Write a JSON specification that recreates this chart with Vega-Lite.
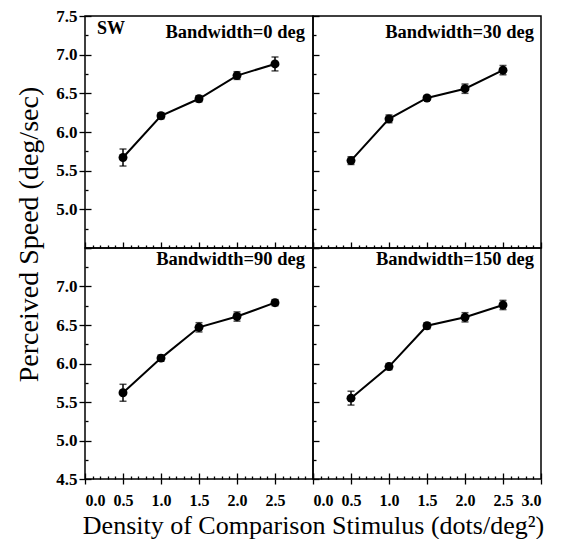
{
  "$schema": "https://vega.github.io/schema/vega-lite/v6.json",
  "background": "white",
  "padding": {"left": 15, "top": 6, "right": 5, "bottom": 0},
  "datasets": {
    "speeds": [
      {"bw": "Bandwidth=0 deg", "density": 0.5, "speed": 5.67, "err": 0.11},
      {"bw": "Bandwidth=0 deg", "density": 1.0, "speed": 6.21, "err": 0.04},
      {"bw": "Bandwidth=0 deg", "density": 1.5, "speed": 6.43, "err": 0.04},
      {"bw": "Bandwidth=0 deg", "density": 2.0, "speed": 6.73, "err": 0.05},
      {"bw": "Bandwidth=0 deg", "density": 2.5, "speed": 6.88, "err": 0.09},
      {"bw": "Bandwidth=30 deg", "density": 0.5, "speed": 5.63, "err": 0.05},
      {"bw": "Bandwidth=30 deg", "density": 1.0, "speed": 6.17, "err": 0.05},
      {"bw": "Bandwidth=30 deg", "density": 1.5, "speed": 6.44, "err": 0.03},
      {"bw": "Bandwidth=30 deg", "density": 2.0, "speed": 6.56, "err": 0.06},
      {"bw": "Bandwidth=30 deg", "density": 2.5, "speed": 6.80, "err": 0.06},
      {"bw": "Bandwidth=90 deg", "density": 0.5, "speed": 5.62, "err": 0.11},
      {"bw": "Bandwidth=90 deg", "density": 1.0, "speed": 6.07, "err": 0.04},
      {"bw": "Bandwidth=90 deg", "density": 1.5, "speed": 6.47, "err": 0.06},
      {"bw": "Bandwidth=90 deg", "density": 2.0, "speed": 6.61, "err": 0.06},
      {"bw": "Bandwidth=90 deg", "density": 2.5, "speed": 6.79, "err": 0.04},
      {"bw": "Bandwidth=150 deg", "density": 0.5, "speed": 5.55, "err": 0.09},
      {"bw": "Bandwidth=150 deg", "density": 1.0, "speed": 5.96, "err": 0.04},
      {"bw": "Bandwidth=150 deg", "density": 1.5, "speed": 6.49, "err": 0.04},
      {"bw": "Bandwidth=150 deg", "density": 2.0, "speed": 6.60, "err": 0.06},
      {"bw": "Bandwidth=150 deg", "density": 2.5, "speed": 6.76, "err": 0.06}
    ]
  },
  "data": {"name": "speeds"},
  "spacing": 0,
  "bounds": "flush",
  "columns": 2,
  "concat": [
    {
      "width": 228, "height": 232,
      "transform": [{"filter": "datum.bw === 'Bandwidth=0 deg'"}],
      "resolve": {"axis": {"x": "independent", "y": "independent"}},
      "layer": [
        {
          "mark": {"type": "errorbar", "ticks": {"size": 7}, "color": "black", "thickness": 1.5},
          "encoding": {
            "x": {"field": "density", "type": "quantitative", "scale": {"domain": [0, 3], "nice": false, "zero": false}, "axis": null},
            "y": {"field": "speed", "type": "quantitative", "scale": {"domain": [4.5, 7.5], "nice": false, "zero": false}, "axis": null},
            "yError": {"field": "err"}
          }
        },
        {
          "mark": {"type": "line", "color": "black", "strokeWidth": 2},
          "encoding": {
            "x": {"field": "density", "type": "quantitative", "axis": null},
            "y": {"field": "speed", "type": "quantitative", "axis": {"orient": "left", "values": [5, 5.5, 6, 6.5, 7, 7.5], "format": ".1f", "tickSize": 6, "labelPadding": 2, "title": "Perceived Speed (deg/sec)", "titleFontSize": 28, "titleY": 218, "titlePadding": 12}}
          }
        },
        {
          "mark": {"type": "point", "filled": true, "color": "black", "size": 80, "opacity": 1},
          "encoding": {
            "x": {"field": "density", "type": "quantitative", "axis": {"orient": "bottom", "values": [0, 0.5, 1, 1.5, 2, 2.5, 3], "labels": false, "tickSize": -6, "title": null}},
            "y": {"field": "speed", "type": "quantitative", "axis": {"orient": "left", "values": [4.5, 5, 5.5, 6, 6.5, 7, 7.5], "labels": false, "tickSize": -6, "title": null}}
          }
        },
        {
          "transform": [{"filter": "datum.density === 0.5"}],
          "mark": {"type": "text", "align": "right", "baseline": "alphabetic", "dx": -8, "dy": 22, "font": "Liberation Serif", "fontWeight": "bold", "fontSize": 18.5, "color": "black"},
          "encoding": {
            "x": {"datum": 3, "type": "quantitative", "axis": {"orient": "bottom", "values": [0.1, 0.2, 0.3, 0.4, 0.6, 0.7, 0.8, 0.9, 1.1, 1.2, 1.3, 1.4, 1.6, 1.7, 1.8, 1.9, 2.1, 2.2, 2.3, 2.4, 2.6, 2.7, 2.8, 2.9], "labels": false, "tickSize": -3, "title": null}},
            "y": {"datum": 7.5, "type": "quantitative", "axis": {"orient": "left", "values": [4.75, 5.25, 5.75, 6.25, 6.75, 7.25], "labels": false, "tickSize": -3, "title": null}},
            "text": {"field": "bw"}
          }
        },
        {
          "transform": [{"filter": "datum.density === 0.5"}],
          "mark": {"type": "text", "text": "SW", "align": "left", "baseline": "alphabetic", "dx": 12, "dy": 18, "font": "Liberation Serif", "fontWeight": "bold", "fontSize": 18, "color": "black"},
          "encoding": {
            "x": {"datum": 0, "type": "quantitative", "axis": null},
            "y": {"datum": 7.5, "type": "quantitative", "axis": null}
          }
        }
      ]
    },
    {
      "width": 228, "height": 232,
      "transform": [{"filter": "datum.bw === 'Bandwidth=30 deg'"}],
      "resolve": {"axis": {"x": "independent", "y": "independent"}},
      "layer": [
        {
          "mark": {"type": "errorbar", "ticks": {"size": 7}, "color": "black", "thickness": 1.5},
          "encoding": {
            "x": {"field": "density", "type": "quantitative", "scale": {"domain": [0, 3], "nice": false, "zero": false}, "axis": null},
            "y": {"field": "speed", "type": "quantitative", "scale": {"domain": [4.5, 7.5], "nice": false, "zero": false}, "axis": null},
            "yError": {"field": "err"}
          }
        },
        {
          "mark": {"type": "line", "color": "black", "strokeWidth": 2},
          "encoding": {
            "x": {"field": "density", "type": "quantitative", "axis": null},
            "y": {"field": "speed", "type": "quantitative", "axis": null}
          }
        },
        {
          "mark": {"type": "point", "filled": true, "color": "black", "size": 80, "opacity": 1},
          "encoding": {
            "x": {"field": "density", "type": "quantitative", "axis": {"orient": "bottom", "values": [0, 0.5, 1, 1.5, 2, 2.5, 3], "labels": false, "tickSize": -6, "title": null}},
            "y": {"field": "speed", "type": "quantitative", "axis": {"orient": "left", "values": [4.5, 5, 5.5, 6, 6.5, 7, 7.5], "labels": false, "tickSize": -6, "title": null}}
          }
        },
        {
          "transform": [{"filter": "datum.density === 0.5"}],
          "mark": {"type": "text", "align": "right", "baseline": "alphabetic", "dx": -7, "dy": 22, "font": "Liberation Serif", "fontWeight": "bold", "fontSize": 18.5, "color": "black"},
          "encoding": {
            "x": {"datum": 3, "type": "quantitative", "axis": {"orient": "bottom", "values": [0.1, 0.2, 0.3, 0.4, 0.6, 0.7, 0.8, 0.9, 1.1, 1.2, 1.3, 1.4, 1.6, 1.7, 1.8, 1.9, 2.1, 2.2, 2.3, 2.4, 2.6, 2.7, 2.8, 2.9], "labels": false, "tickSize": -3, "title": null}},
            "y": {"datum": 7.5, "type": "quantitative", "axis": {"orient": "left", "values": [4.75, 5.25, 5.75, 6.25, 6.75, 7.25], "labels": false, "tickSize": -3, "title": null}},
            "text": {"field": "bw"}
          }
        }
      ]
    },
    {
      "width": 228, "height": 231,
      "transform": [{"filter": "datum.bw === 'Bandwidth=90 deg'"}],
      "resolve": {"axis": {"x": "independent", "y": "independent"}},
      "layer": [
        {
          "mark": {"type": "errorbar", "ticks": {"size": 7}, "color": "black", "thickness": 1.5},
          "encoding": {
            "x": {"field": "density", "type": "quantitative", "scale": {"domain": [0, 3], "nice": false, "zero": false}, "axis": null},
            "y": {"field": "speed", "type": "quantitative", "scale": {"domain": [4.5, 7.5], "nice": false, "zero": false}, "axis": null},
            "yError": {"field": "err"}
          }
        },
        {
          "mark": {"type": "line", "color": "black", "strokeWidth": 2},
          "encoding": {
            "x": {"field": "density", "type": "quantitative", "axis": {"orient": "bottom", "values": [0, 0.5, 1, 1.5, 2, 2.5], "format": ".1f", "tickSize": 5, "labelPadding": 8, "labelFontSize": 16, "title": "Density of Comparison Stimulus (dots/deg²)", "titleFontSize": 26, "titleX": 228, "titlePadding": 4}},
            "y": {"field": "speed", "type": "quantitative", "axis": {"orient": "left", "values": [4.5, 5, 5.5, 6, 6.5, 7], "format": ".1f", "tickSize": 6, "labelPadding": 2, "title": null}}
          }
        },
        {
          "mark": {"type": "point", "filled": true, "color": "black", "size": 80, "opacity": 1},
          "encoding": {
            "x": {"field": "density", "type": "quantitative", "axis": {"orient": "bottom", "values": [0, 0.5, 1, 1.5, 2, 2.5, 3], "labels": false, "tickSize": -6, "title": null}},
            "y": {"field": "speed", "type": "quantitative", "axis": {"orient": "left", "values": [4.5, 5, 5.5, 6, 6.5, 7, 7.5], "labels": false, "tickSize": -6, "title": null}}
          }
        },
        {
          "transform": [{"filter": "datum.density === 0.5"}],
          "mark": {"type": "text", "align": "right", "baseline": "alphabetic", "dx": -8, "dy": 17, "font": "Liberation Serif", "fontWeight": "bold", "fontSize": 18.5, "color": "black"},
          "encoding": {
            "x": {"datum": 3, "type": "quantitative", "axis": {"orient": "bottom", "values": [0.1, 0.2, 0.3, 0.4, 0.6, 0.7, 0.8, 0.9, 1.1, 1.2, 1.3, 1.4, 1.6, 1.7, 1.8, 1.9, 2.1, 2.2, 2.3, 2.4, 2.6, 2.7, 2.8, 2.9], "labels": false, "tickSize": -3, "title": null}},
            "y": {"datum": 7.5, "type": "quantitative", "axis": {"orient": "left", "values": [4.75, 5.25, 5.75, 6.25, 6.75, 7.25], "labels": false, "tickSize": -3, "title": null}},
            "text": {"field": "bw"}
          }
        }
      ]
    },
    {
      "width": 228, "height": 231,
      "transform": [{"filter": "datum.bw === 'Bandwidth=150 deg'"}],
      "resolve": {"axis": {"x": "independent", "y": "independent"}},
      "layer": [
        {
          "mark": {"type": "errorbar", "ticks": {"size": 7}, "color": "black", "thickness": 1.5},
          "encoding": {
            "x": {"field": "density", "type": "quantitative", "scale": {"domain": [0, 3], "nice": false, "zero": false}, "axis": null},
            "y": {"field": "speed", "type": "quantitative", "scale": {"domain": [4.5, 7.5], "nice": false, "zero": false}, "axis": null},
            "yError": {"field": "err"}
          }
        },
        {
          "mark": {"type": "line", "color": "black", "strokeWidth": 2},
          "encoding": {
            "x": {"field": "density", "type": "quantitative", "axis": {"orient": "bottom", "values": [0, 0.5, 1, 1.5, 2, 2.5, 3], "format": ".1f", "tickSize": 5, "labelPadding": 8, "labelFontSize": 16, "title": null}},
            "y": {"field": "speed", "type": "quantitative", "axis": null}
          }
        },
        {
          "mark": {"type": "point", "filled": true, "color": "black", "size": 80, "opacity": 1},
          "encoding": {
            "x": {"field": "density", "type": "quantitative", "axis": {"orient": "bottom", "values": [0, 0.5, 1, 1.5, 2, 2.5, 3], "labels": false, "tickSize": -6, "title": null}},
            "y": {"field": "speed", "type": "quantitative", "axis": {"orient": "left", "values": [4.5, 5, 5.5, 6, 6.5, 7, 7.5], "labels": false, "tickSize": -6, "title": null}}
          }
        },
        {
          "transform": [{"filter": "datum.density === 0.5"}],
          "mark": {"type": "text", "align": "right", "baseline": "alphabetic", "dx": -7, "dy": 17, "font": "Liberation Serif", "fontWeight": "bold", "fontSize": 18.5, "color": "black"},
          "encoding": {
            "x": {"datum": 3, "type": "quantitative", "axis": {"orient": "bottom", "values": [0.1, 0.2, 0.3, 0.4, 0.6, 0.7, 0.8, 0.9, 1.1, 1.2, 1.3, 1.4, 1.6, 1.7, 1.8, 1.9, 2.1, 2.2, 2.3, 2.4, 2.6, 2.7, 2.8, 2.9], "labels": false, "tickSize": -3, "title": null}},
            "y": {"datum": 7.5, "type": "quantitative", "axis": {"orient": "left", "values": [4.75, 5.25, 5.75, 6.25, 6.75, 7.25], "labels": false, "tickSize": -3, "title": null}},
            "text": {"field": "bw"}
          }
        }
      ]
    }
  ],
  "config": {
    "view": {"stroke": "black", "strokeWidth": 1.5},
    "axis": {
      "domain": false,
      "grid": false,
      "tickColor": "black",
      "tickWidth": 1.3,
      "labelColor": "black",
      "labelFont": "Liberation Serif",
      "labelFontWeight": "bold",
      "labelFontSize": 17,
      "titleFont": "Liberation Serif",
      "titleFontWeight": "normal",
      "titleFontSize": 26,
      "titleColor": "black"
    }
  }
}
